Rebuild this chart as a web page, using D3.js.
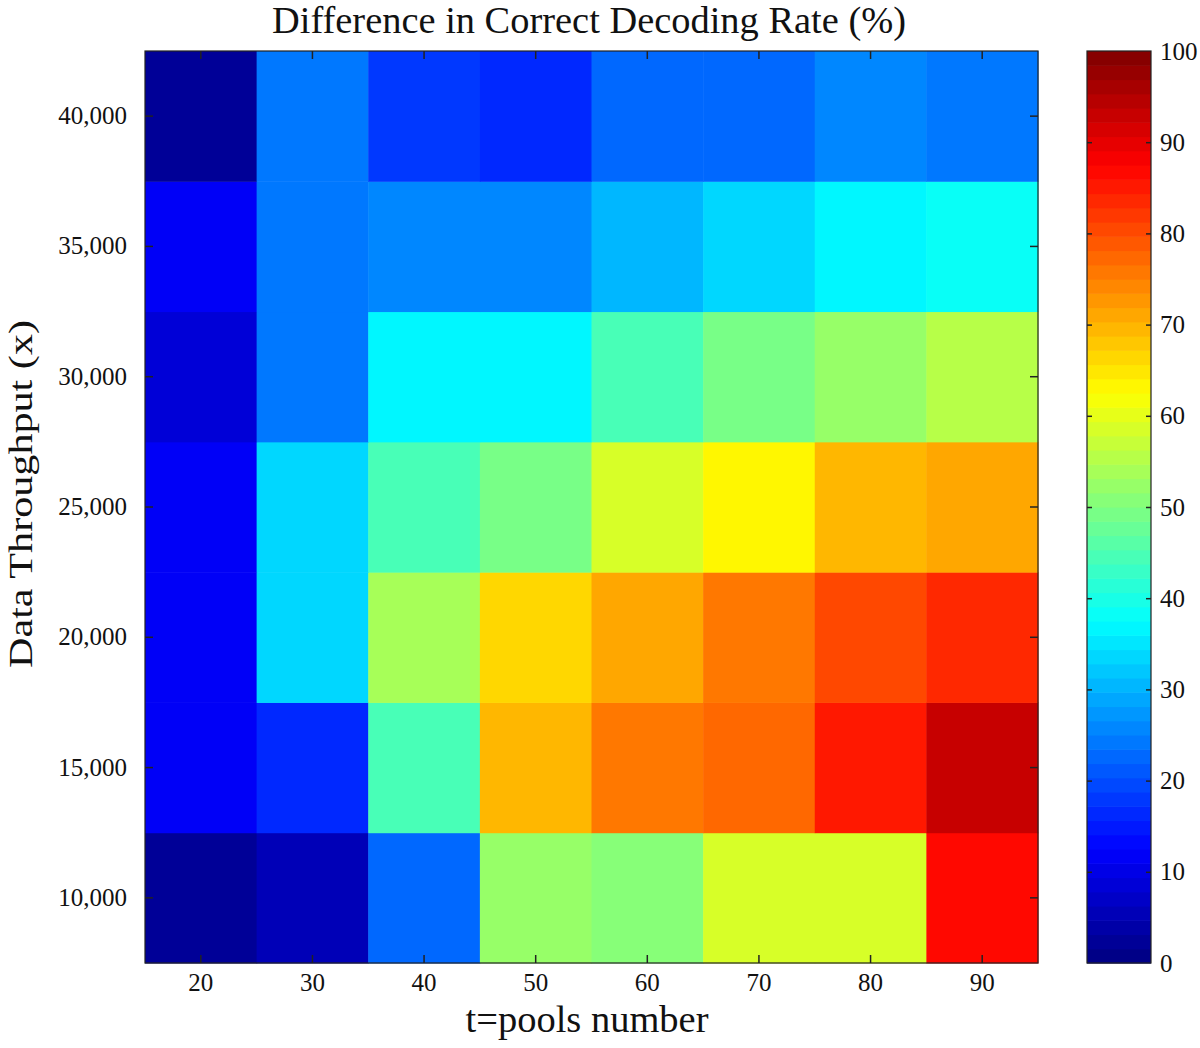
<!DOCTYPE html>
<html>
<head>
<meta charset="utf-8">
<script src="https://cdn.jsdelivr.net/npm/d3@7"></script>
<style>
  html, body { margin: 0; padding: 0; background: #fff; }
  svg { display: block; }
  text { font-family: "Liberation Serif", "DejaVu Serif", serif; fill: #111; }
</style>
</head>
<body>
<svg id="chart" width="1200" height="1048"></svg>
<script>
// ---- data ----
const poolNumbers = [20, 30, 40, 50, 60, 70, 80, 90];
const throughputs = [10000, 15000, 20000, 25000, 30000, 35000, 40000];
// values per row (one row per throughput), columns follow poolNumbers
const row10000 = [2, 6, 23, 53, 51, 58, 58, 87];
const row15000 = [11, 17, 44, 69, 76, 78, 85, 93];
const row20000 = [11, 34, 54, 67, 71, 75, 81, 83];
const row25000 = [12, 34, 44, 49, 58, 63, 70, 71];
const row30000 = [9, 24, 36, 36, 44, 49, 52, 55];
const row35000 = [11, 24, 25, 26, 31, 33, 36, 38];
const row40000 = [2, 24, 18, 16, 22, 22, 26, 24];
const rows = [row10000, row15000, row20000, row25000, row30000, row35000, row40000];
const colorbarTicks = [0, 10, 20, 30, 40, 50, 60, 70, 80, 90, 100];
const titleText = "Difference in Correct Decoding Rate (%)";
const xLabel = "t=pools number";
const yLabel = "Data Throughput (x)";

// ---- jet colormap, 64 discrete levels ----
const NLEV = 64;
function jet(t) {
  const c = v => Math.max(0, Math.min(1, v));
  const r = c(1.5 - Math.abs(4 * t - 3));
  const g = c(1.5 - Math.abs(4 * t - 2));
  const b = c(1.5 - Math.abs(4 * t - 1));
  return d3.rgb(r * 255, g * 255, b * 255).toString();
}
function levelColor(i) { return jet((i + 0.5) / NLEV); }
function valueColor(v) {
  const i = Math.max(0, Math.min(NLEV - 1, Math.floor(v / 100 * NLEV)));
  return levelColor(i);
}

const svg = d3.select("#chart");
const L = 145, R = 1038, T = 51, B = 963;
const FS = "25px";

const x = d3.scaleBand().domain(poolNumbers).range([L, R]).padding(0);
const y = d3.scaleBand().domain(throughputs).range([B, T]).padding(0);

// cells
const cells = [];
rows.forEach((row, ri) => row.forEach((v, ci) => cells.push({ t: throughputs[ri], p: poolNumbers[ci], v })));
svg.append("g").selectAll("rect").data(cells).join("rect")
  .attr("x", d => x(d.p)).attr("y", d => y(d.t))
  .attr("width", x.bandwidth() + 0.5).attr("height", y.bandwidth() + 0.5)
  .attr("fill", d => valueColor(d.v));

// frame
svg.append("rect").attr("x", L).attr("y", T).attr("width", R - L).attr("height", B - T)
  .attr("fill", "none").attr("stroke", "#222").attr("stroke-width", 1.2);

const fmt = d3.format(",");
const tickLen = 8;
// bottom axis (inward ticks)
const xb = svg.append("g").attr("transform", `translate(0,${B})`)
  .call(d3.axisBottom(x).tickSize(-tickLen).tickPadding(10));
xb.select(".domain").remove();
xb.selectAll("text").style("font-size", FS).style("font-family", "Liberation Serif");
xb.selectAll("line").attr("stroke", "#222").attr("stroke-width", 1.5);
// top ticks
const xt = svg.append("g").attr("transform", `translate(0,${T})`)
  .call(d3.axisTop(x).tickSize(-tickLen).tickFormat(""));
xt.select(".domain").remove();
xt.selectAll("line").attr("stroke", "#222").attr("stroke-width", 1.5);
// left axis
const yl = svg.append("g").attr("transform", `translate(${L},0)`)
  .call(d3.axisLeft(y).tickSize(-tickLen).tickPadding(18).tickFormat(fmt));
yl.select(".domain").remove();
yl.selectAll("text").style("font-size", FS).style("font-family", "Liberation Serif");
yl.selectAll("line").attr("stroke", "#222").attr("stroke-width", 1.5);
// right ticks
const yr = svg.append("g").attr("transform", `translate(${R},0)`)
  .call(d3.axisRight(y).tickSize(-tickLen).tickFormat(""));
yr.select(".domain").remove();
yr.selectAll("line").attr("stroke", "#222").attr("stroke-width", 1.5);

// title and labels
svg.append("text").attr("x", 589).attr("y", 33).attr("text-anchor", "middle")
  .style("font-size", "38px").attr("textLength", 634).attr("lengthAdjust", "spacingAndGlyphs")
  .text(titleText);
svg.append("text").attr("x", 587).attr("y", 1032).attr("text-anchor", "middle")
  .style("font-size", "37px").attr("textLength", 243).attr("lengthAdjust", "spacingAndGlyphs")
  .text(xLabel);
svg.append("text").attr("transform", `translate(32,494) rotate(-90)`)
  .attr("text-anchor", "middle").style("font-size", "34px")
  .attr("textLength", 348).attr("lengthAdjust", "spacingAndGlyphs").text(yLabel);

// colorbar
const CL = 1087, CR = 1151;
const cy = d3.scaleLinear().domain([0, 100]).range([B, T]);
const levels = d3.range(NLEV);
svg.append("g").selectAll("rect").data(levels).join("rect")
  .attr("x", CL).attr("width", CR - CL)
  .attr("y", i => cy((i + 1) * 100 / NLEV))
  .attr("height", i => cy(i * 100 / NLEV) - cy((i + 1) * 100 / NLEV) + 0.6)
  .attr("fill", i => levelColor(i));
svg.append("rect").attr("x", CL).attr("y", T).attr("width", CR - CL).attr("height", B - T)
  .attr("fill", "none").attr("stroke", "#222").attr("stroke-width", 1.2);
const cbr = svg.append("g").attr("transform", `translate(${CR},0)`)
  .call(d3.axisRight(cy).tickValues(colorbarTicks).tickSize(-5).tickPadding(9));
cbr.select(".domain").remove();
cbr.selectAll("text").style("font-size", FS).style("font-family", "Liberation Serif");
cbr.selectAll("line").attr("stroke", "#222").attr("stroke-width", 1.5)
  .style("display", d => (d === 0 || d === 100) ? "none" : null);
const cbl = svg.append("g").attr("transform", `translate(${CL},0)`)
  .call(d3.axisLeft(cy).tickValues(colorbarTicks).tickSize(-5).tickFormat(""));
cbl.select(".domain").remove();
cbl.selectAll("line").attr("stroke", "#222").attr("stroke-width", 1.5)
  .style("display", d => (d === 0 || d === 100) ? "none" : null);
</script>
</body>
</html>
